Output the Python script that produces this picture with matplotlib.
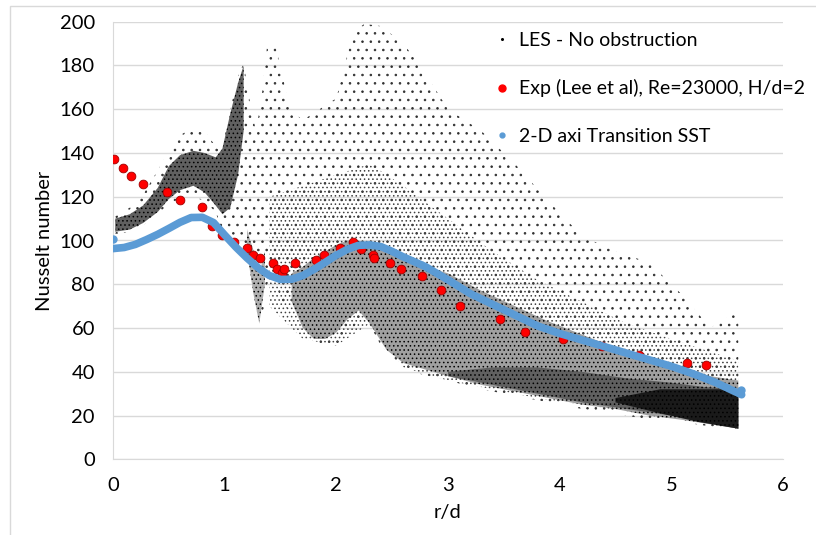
import numpy as np
import matplotlib
matplotlib.use('Agg')
import matplotlib.pyplot as plt
from matplotlib.lines import Line2D
from matplotlib.patches import Rectangle

plt.rcParams['font.family'] = ['Lato', 'DejaVu Sans']
plt.rcParams['hatch.linewidth'] = 0.6

# Experimental data (Lee et al)
exp_r = [0.01, 0.087, 0.16, 0.27, 0.48, 0.60, 0.80, 0.89, 0.98, 1.08, 1.20, 1.25,
         1.32, 1.43, 1.47, 1.51, 1.53, 1.63, 1.82, 1.89, 2.03, 2.15, 2.22, 2.33,
         2.34, 2.48, 2.58, 2.77, 2.94, 3.11, 3.47, 3.69, 4.03, 4.38, 4.71, 5.14, 5.31]
exp_nu = [137.4, 133.2, 129.5, 125.6, 122.2, 118.7, 115.3, 106.5, 102.4, 99.5, 96.6, 93.4,
          91.8, 89.8, 87.2, 85.2, 87.2, 89.5, 91.3, 93.6, 96.5, 99.5, 96.0, 93.6,
          91.8, 89.8, 86.9, 83.8, 77.4, 70.0, 63.9, 58.4, 54.9, 51.7, 47.6, 44.1, 43.1]

# 2-D axisymmetric Transition SST
sst_r = [0.0, 0.1, 0.2, 0.3, 0.4, 0.5, 0.6, 0.7, 0.8, 0.9, 1.0, 1.1, 1.2, 1.3, 1.4,
         1.5, 1.6, 1.7, 1.8, 1.9, 2.0, 2.1, 2.2, 2.3, 2.4, 2.5, 2.6, 2.8, 3.0, 3.2,
         3.4, 3.6, 3.8, 4.0, 4.2, 4.4, 4.6, 4.8, 5.0, 5.2, 5.4, 5.63]
sst_nu = [96.3, 96.8, 98.2, 100.4, 102.8, 105.5, 108.3, 110.5, 110.6, 108.2, 102.5, 97.0,
          92.0, 87.5, 84.0, 82.2, 82.3, 84.0, 86.8, 90.0, 93.3, 96.0, 97.8, 98.0, 97.2,
          95.0, 92.5, 88.0, 82.0, 75.7, 70.8, 65.9, 61.0, 57.5, 54.5, 51.5, 48.5, 45.5,
          42.5, 39.0, 35.0, 29.5]
sst_extra_r = [0.0, 5.62]
sst_extra_nu = [100.6, 31.5]

# LES cloud: outer (sparse) envelope
les_r = [0.02, 0.15, 0.27, 0.4, 0.5, 0.6, 0.72, 0.82, 0.92, 0.97, 1.05, 1.12, 1.17, 1.22,
         1.28, 1.33, 1.38, 1.45, 1.52, 1.58, 1.7, 1.85, 2.0, 2.15, 2.25, 2.4, 2.6, 2.75,
         3.0, 3.3, 3.6, 3.9, 4.2, 4.5, 4.8, 5.1, 5.35, 5.6]
les_hi = [111, 115, 121, 132, 141, 148, 152, 150, 143, 140, 160, 175, 181, 165,
          150, 165, 189, 190, 175, 160, 155, 160, 165, 195, 199, 198, 190, 180,
          160, 150, 135, 118, 102, 95, 90, 75, 60, 68]
les_lo = [103, 104, 107, 112, 117, 119, 120, 118, 113, 105, 102, 100, 100, 90,
          75, 62, 80, 85, 68, 70, 60, 52, 52, 60, 66, 52, 42, 39,
          36, 32, 29, 26, 23, 21, 18, 17, 15, 13]

# LES medium-density zone
mid_r = [1.4, 1.7, 2.0, 2.3, 2.6, 3.0, 3.4, 3.8, 4.2, 4.6, 5.0, 5.6]
mid_hi = [120, 125, 130, 135, 125, 110, 95, 82, 72, 62, 55, 45]
mid_lo = [70, 55, 52, 62, 42, 36, 32, 28, 25, 22, 19, 14]

# LES dense band, near wall jet start
band_r = [0.02, 0.15, 0.27, 0.4, 0.5, 0.6, 0.72, 0.82, 0.92, 0.98, 1.05, 1.12, 1.17]
band_hi = [110, 112, 116, 124, 134, 139, 141, 140, 138, 142, 158, 172, 180]
band_lo = [104, 105, 108, 113, 119, 123, 125, 122, 116, 112, 115, 130, 150]

dip_r = [1.2, 1.26, 1.31, 1.36]
dip_hi = [105, 95, 85, 95]
dip_lo = [95, 75, 62, 80]

# LES dense band, downstream
main_r = [1.6, 1.7, 1.8, 1.9, 2.0, 2.1, 2.2, 2.3, 2.45, 2.6, 2.8, 3.0, 3.3, 3.6, 3.9,
          4.2, 4.5, 4.8, 5.1, 5.35, 5.6]
main_hi = [85, 88, 92, 95, 98, 100, 100, 98, 95, 92, 88, 85, 77, 70, 63,
           57, 51, 46, 42, 38, 36]
main_lo = [72, 60, 55, 55, 58, 64, 68, 62, 50, 44, 41, 38, 34, 31, 28,
           25, 23, 20, 18, 16, 14]

dark_r = [3.0, 3.4, 3.8, 4.2, 4.6, 5.0, 5.3, 5.6]
dark_hi = [40, 42, 42, 40, 37, 35, 33, 32]
dark_lo = [38, 34, 30, 26, 23, 20, 17, 14]

core_r = [4.5, 4.9, 5.25, 5.6]
core_hi = [28, 32, 32, 32]
core_lo = [26, 21, 17, 14]

fig = plt.figure(figsize=(8.16, 5.35), dpi=100)
ax = fig.add_axes([113 / 816, 1 - 459.3 / 535, 670 / 816, 437.6 / 535])

# LES cloud as stippled regions, darker where the points are denser
ax.fill_between(les_r, les_lo, les_hi, facecolor='none', edgecolor='#303030',
                hatch='..', linewidth=0, zorder=2)
ax.fill_between(mid_r, mid_lo, mid_hi, facecolor='none', edgecolor='#404040',
                hatch='....', linewidth=0, zorder=2)
ax.fill_between(band_r, band_lo, band_hi, facecolor='#606060', edgecolor='black',
                hatch='....', linewidth=0, zorder=2)
ax.fill_between(dip_r, dip_lo, dip_hi, facecolor='#b0b0b0', edgecolor='black',
                hatch='....', linewidth=0, zorder=2)
ax.fill_between(main_r, main_lo, main_hi, facecolor='#a0a0a0', edgecolor='black',
                hatch='....', linewidth=0, zorder=2)
ax.fill_between(dark_r, dark_lo, dark_hi, facecolor='#606060', edgecolor='black',
                hatch='....', linewidth=0, zorder=2)
ax.fill_between(core_r, core_lo, core_hi, facecolor='#1a1a1a', edgecolor='black',
                hatch='....', linewidth=0, zorder=2)

ax.plot(exp_r, exp_nu, 'o', color='#ff0000', markeredgecolor='#a00000',
        markeredgewidth=0.6, markersize=6.3, zorder=3)
ax.plot(sst_r, sst_nu, '-', color='#5b9bd5', linewidth=5.5,
        solid_capstyle='round', zorder=4)
ax.plot(sst_extra_r, sst_extra_nu, 'o', color='#5b9bd5', markersize=5, zorder=4)

ax.set_xlim(0, 6)
ax.set_ylim(0, 200)
ax.set_xticks(range(0, 7))
ax.set_yticks(range(0, 201, 20))
ax.grid(axis='y', color='#d9d9d9', linewidth=1)
ax.set_axisbelow(True)
for side in ['top', 'right']:
    ax.spines[side].set_visible(False)
for side in ['left', 'bottom']:
    ax.spines[side].set_color('#d9d9d9')
ax.tick_params(length=0, labelsize=14.5, colors='#000000')
ax.tick_params(axis='x', pad=13)
ax.tick_params(axis='y', pad=13)
ax.set_xlabel('r/d', fontsize=14.5, labelpad=7)
ax.set_ylabel('Nusselt number', fontsize=14.5, labelpad=5)

handles = [
    Line2D([], [], marker='o', linestyle='none', color='black', markersize=1.2),
    Line2D([], [], marker='o', linestyle='none', color='#ff0000', markersize=5),
    Line2D([], [], marker='o', linestyle='none', color='#5b9bd5', markersize=3.5),
]
labels = ['LES - No obstruction', 'Exp (Lee et al), Re=23000, H/d=2',
          '2-D axi Transition SST']
ax.legend(handles, labels, loc='upper left', bbox_to_anchor=(0.554, 0.998),
          frameon=False, fontsize=14, borderpad=0, handlelength=0.8,
          handletextpad=0.5, labelspacing=1.55)

fig.add_artist(Rectangle((10 / 816, -0.1), 1.0, 1.1 - 6 / 535, transform=fig.transFigure,
                         fill=False, edgecolor='#d9d9d9', linewidth=1))

fig.savefig('out.png', dpi=100)
